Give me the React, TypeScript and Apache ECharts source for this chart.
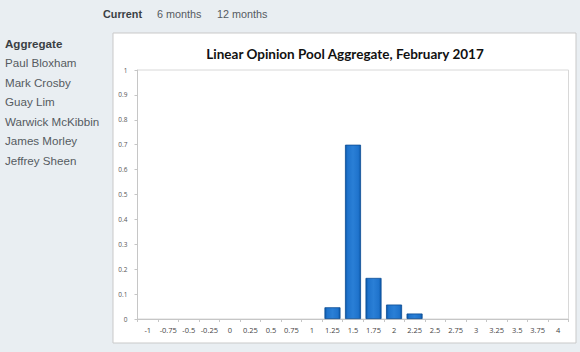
import React, { useEffect, useRef } from "react";
import * as echarts from "echarts";

const categories = ["-1", "-0.75", "-0.5", "-0.25", "0", "0.25", "0.5", "0.75", "1", "1.25", "1.5", "1.75", "2", "2.25", "2.5", "2.75", "3", "3.25", "3.5", "3.75", "4"];
const probabilities = [0, 0, 0, 0, 0, 0, 0, 0, 0, 0.047, 0.70, 0.165, 0.058, 0.022, 0, 0, 0, 0, 0, 0, 0];
const tabs = ["Current", "6 months", "12 months"];
const panelists = ["Aggregate", "Paul Bloxham", "Mark Crosby", "Guay Lim", "Warwick McKibbin", "James Morley", "Jeffrey Sheen"];
const chartTitle = "Linear Opinion Pool Aggregate, February 2017";

export default function App() {
  const ref = useRef<HTMLDivElement>(null);
  useEffect(() => {
    if (!ref.current) return;
    const chart = echarts.init(ref.current, null, { renderer: "svg" });
    const tabX = [103, 157, 217];
    const graphics: any[] = [
      { type: "rect", z: -10, silent: true, shape: { x: 113, y: 33, width: 463, height: 310 }, style: { fill: "#ffffff", stroke: "#c9c9c9", lineWidth: 1 } },
    ];
    tabs.forEach((t, i) => {
      graphics.push({ type: "text", x: tabX[i], y: 14, style: { text: t, fill: i === 0 ? "#3a3f44" : "#555b61", font: `${i === 0 ? "bold " : ""}10.8px "Liberation Sans", Arial, sans-serif`, textVerticalAlign: "middle" } });
    });
    panelists.forEach((p, i) => {
      graphics.push({ type: "text", x: 5, y: 43 + i * 19.5, style: { text: p, fill: i === 0 ? "#3a3f44" : "#555b61", font: `${i === 0 ? "bold " : ""}11.6px "Liberation Sans", Arial, sans-serif`, textVerticalAlign: "middle" } });
    });
    chart.setOption({
      animation: false,
      backgroundColor: "#e9eef2",
      title: {
        text: chartTitle,
        left: 340,
        top: 42,
        textAlign: "center",
        textStyle: { fontSize: 13.5, fontWeight: "bold", color: "#111", fontFamily: "Lato, sans-serif" },
      },
      grid: { left: 137.5, right: 11.5, top: 70, bottom: 33, show: true, borderColor: "#d8d8d8", borderWidth: 1, backgroundColor: "transparent" },
      xAxis: {
        type: "category",
        data: categories,
        axisLine: { show: true, lineStyle: { color: "#c6c6c6" } },
        axisTick: { show: true, length: 3, lineStyle: { color: "#c6c6c6" } },
        axisLabel: { color: "#444", fontSize: 7.5, margin: 7, interval: 0, fontFamily: "'Open Sans', sans-serif" },
        splitLine: { show: false },
      },
      yAxis: {
        type: "value",
        min: 0,
        max: 1,
        interval: 0.1,
        axisLine: { show: true, lineStyle: { color: "#c6c6c6" } },
        axisTick: { show: true, length: 3, lineStyle: { color: "#c6c6c6" } },
        axisLabel: { color: "#555", fontSize: 6.5, margin: 10, fontFamily: "'Open Sans', sans-serif", formatter: (v: number) => String(Math.round(v * 10) / 10) },
        splitLine: { show: false },
      },
      series: [
        {
          type: "bar",
          data: probabilities.map((v) => (v > 0 ? v : "-")),
          barCategoryGap: "22%",
          itemStyle: {
            color: new echarts.graphic.LinearGradient(0, 0, 1, 0, [
              { offset: 0, color: "#0c58a8" },
              { offset: 0.15, color: "#1f73cc" },
              { offset: 0.5, color: "#2a7fd6" },
              { offset: 0.85, color: "#1f73cc" },
              { offset: 1, color: "#0c58a8" },
            ]),
            borderColor: "#0b4d94",
            borderWidth: 0.8,
          },
        },
      ],
      graphic: graphics,
    });
    return () => chart.dispose();
  }, []);
  return <div ref={ref} style={{ position: "fixed", left: 0, top: 0, width: 580, height: 352 }} />;
}
